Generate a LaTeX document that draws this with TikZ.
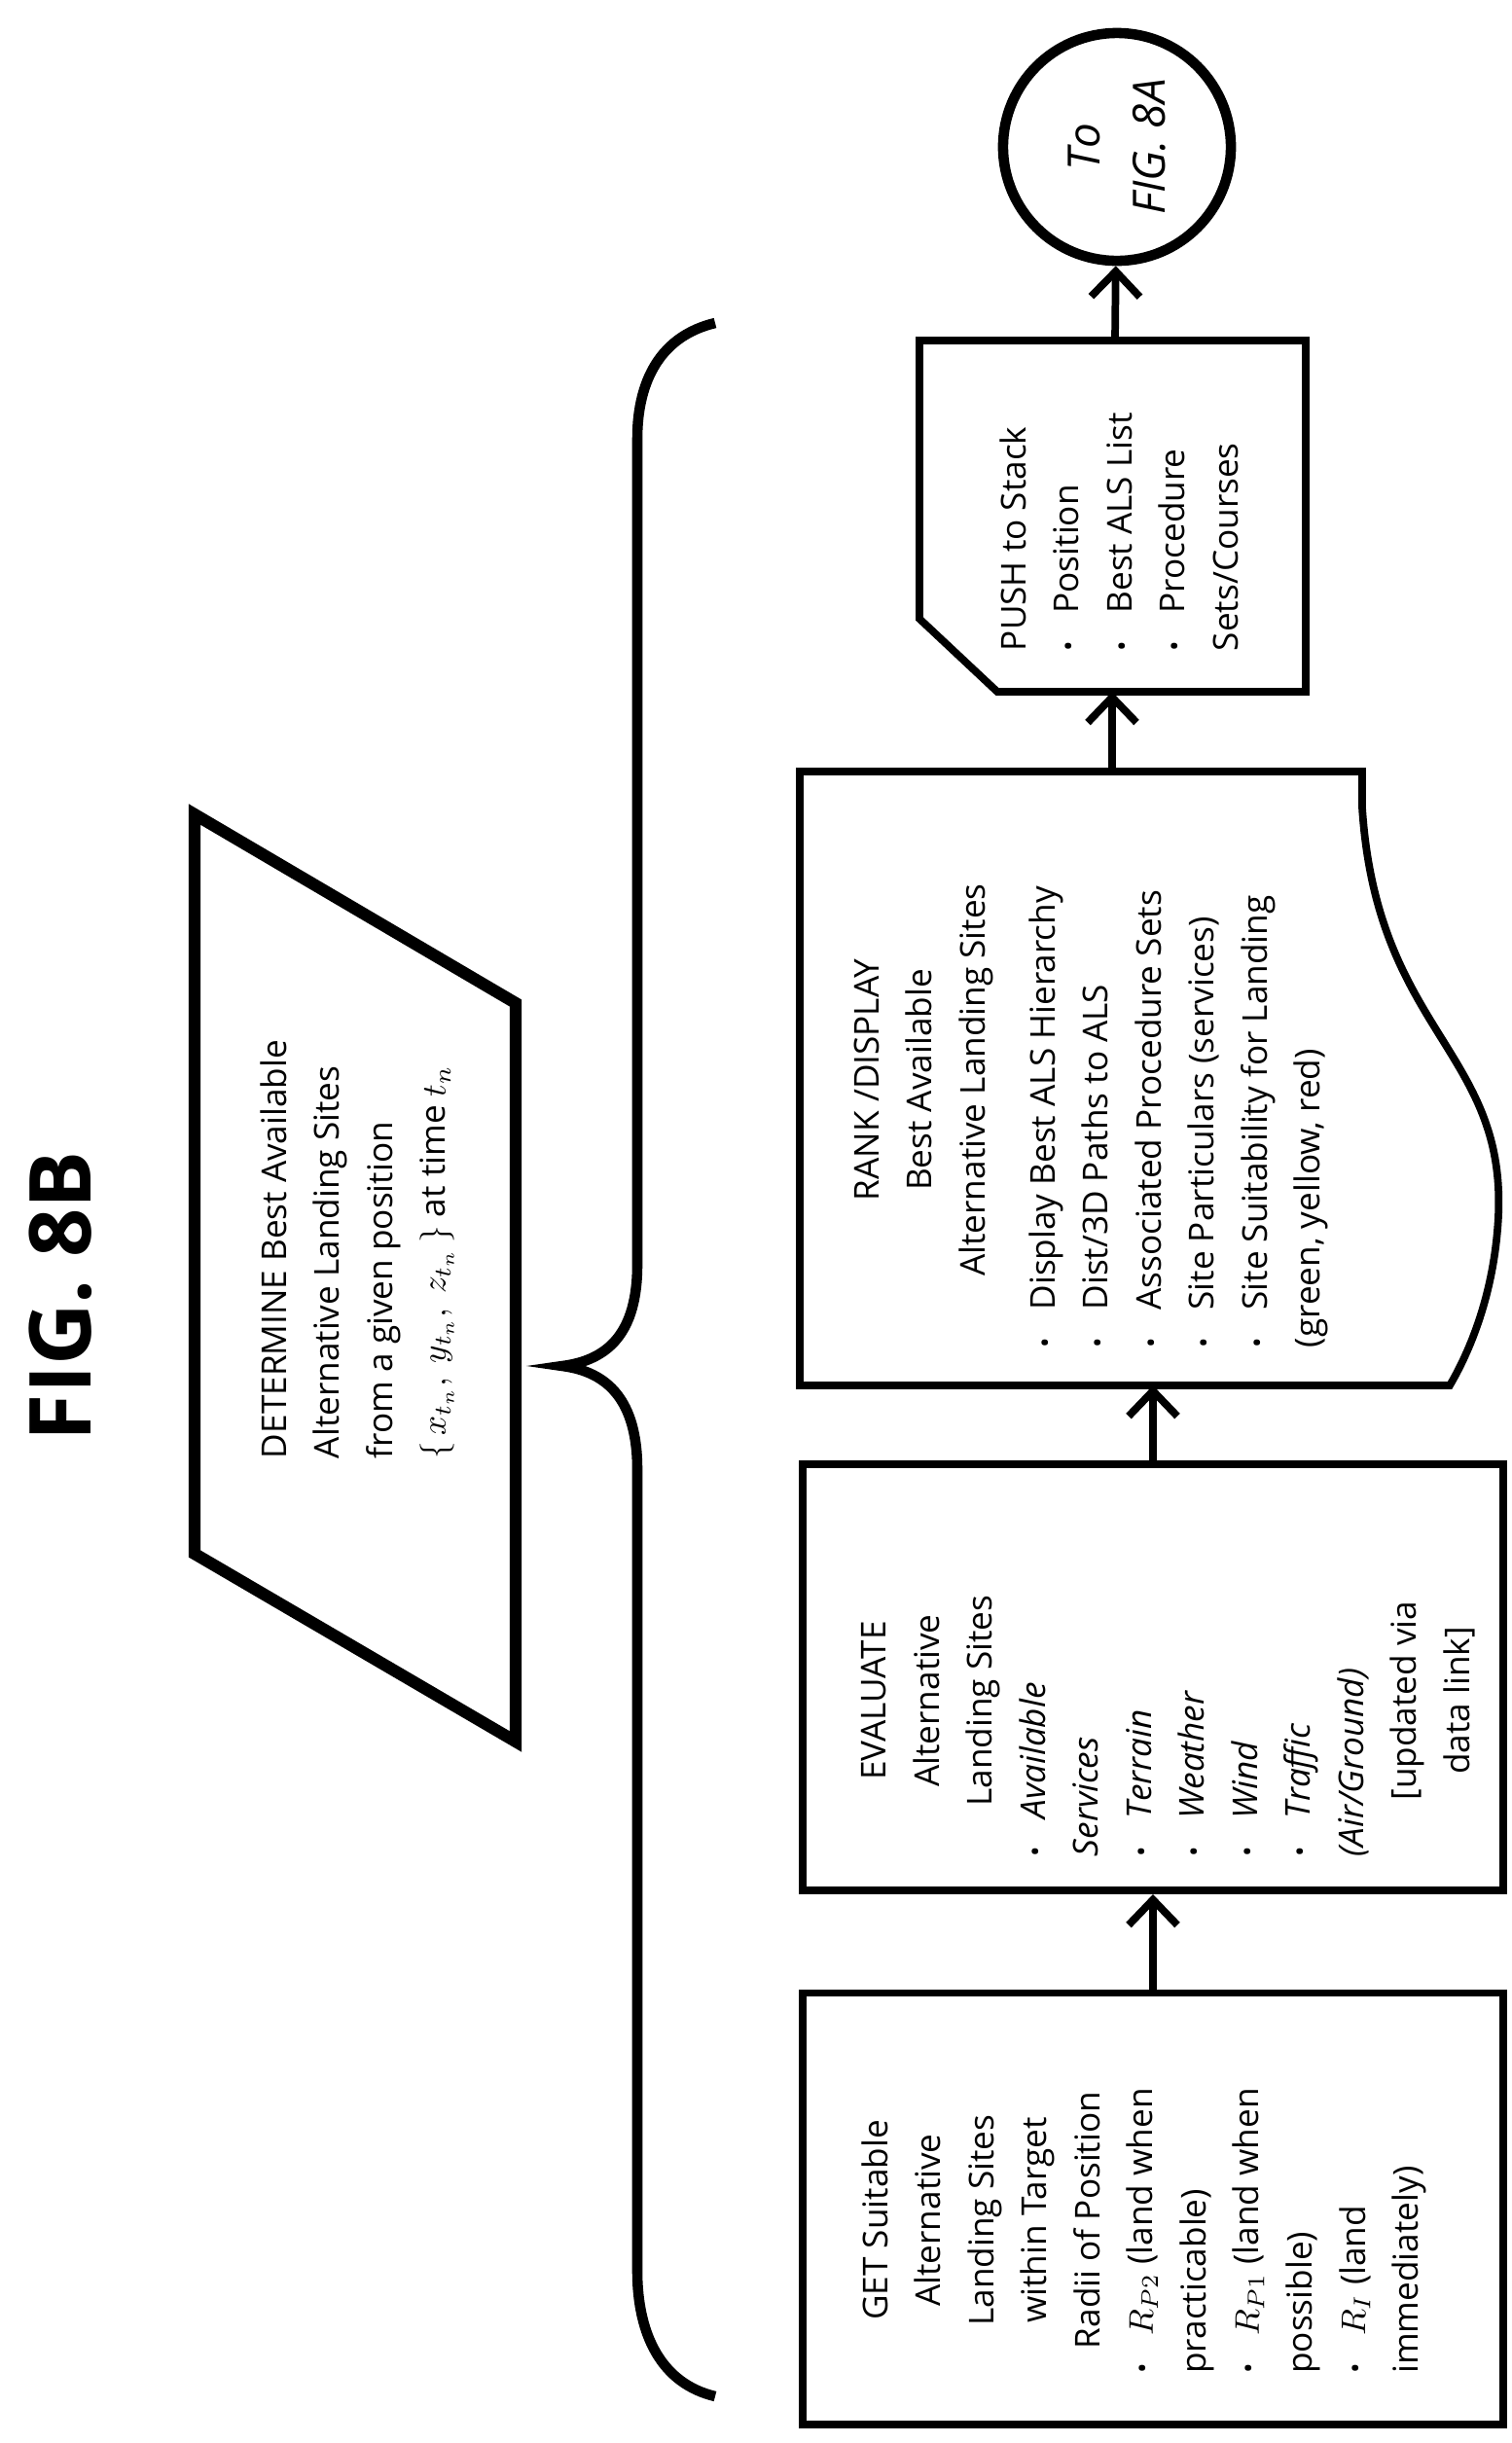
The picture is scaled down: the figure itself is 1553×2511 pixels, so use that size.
\documentclass[tikz,border=0pt]{standalone}
\usepackage{fontspec}
\setmainfont{Open Sans}
\usetikzlibrary{arrows.meta}
\newcommand\bul[1]{\par\hangindent=1.1em\hangafter=1\noindent\makebox[1.1em][l]{\footnotesize\textbullet}{#1}\par}
\newcommand\bulflat[1]{\par\noindent\makebox[1.1em][l]{\footnotesize\textbullet}{#1}\par}
\newcommand\block[2]{\parbox[t]{#1}{\raggedright\hyphenpenalty=10000 #2}}
\newcommand\ctr[1]{\par{\leftskip=0pt plus 1fil\rightskip=0pt plus 1fil\parfillskip=0pt\noindent #1\par}}
\tikzset{
  box/.style={draw, line width=2.2pt, rotate=90, inner sep=0pt},
  txt/.style={rotate=90, anchor=north, inner sep=0pt,
    font=\fontsize{10}{15.5}\selectfont},
  flow/.style={-{Straight Barb[length=2.6mm,width=5mm]}, line width=2.2pt},
}
\begin{document}
\begin{tikzpicture}[x=0.01cm, y=-0.01cm]
    \useasboundingbox (0,0) rectangle (1553,2511);
    \node[rotate=90, font=\fontsize{25}{28}\selectfont\bfseries] (figtitle) at (62,1332) {FIG. 8B};
    % determine
    \draw[line width=3.5pt, line join=miter] (200,837) -- (530,1031) -- (530,1790) -- (200,1597) -- cycle;
    \node[txt] (determine) at (267,1284)
      {\block{4.3cm}{DETERMINE Best Available\\ Alternative Landing Sites\\ from a given position\\
       $\{\,x_{t_n},\ y_{t_n},\ z_{t_n}\,\}$ at time $t_n$}};
    % brace
    \draw[line width=3pt] (735,332) .. controls (680,345) and (655,390) .. (655,451)
      -- (655,1300) .. controls (655,1370) and (625,1398) .. (578,1404)
      .. controls (625,1410) and (655,1440) .. (655,1510)
      -- (655,2334) .. controls (655,2400) and (680,2450) .. (735,2463);
    % get
    \node[box, minimum width=4.43cm, minimum height=7.2cm] (get) at (1185,2270) {};
    \node[txt] (gettxt) at (885,2282)
      {\block{3.15cm}{\ctr{GET Suitable}\ctr{Alternative}\ctr{Landing Sites}\ctr{within Target}\ctr{Radii of Position}
       \bulflat{$R_{P2}$ (land when\\ practicable)}
       \bulflat{$R_{P1}$ (land when\\ possible)}
       \bulflat{$R_{I}$ (land\\ immediately)}}};
    % evaluate
    \node[box, minimum width=4.38cm, minimum height=7.2cm] (eval) at (1185,1724) {};
    \node[txt] (evaltxt) at (885,1748)
      {\block{3.2cm}{\ctr{EVALUATE}\ctr{Alternative}\ctr{Landing Sites}
       \bul{\itshape Available\\ Services}
       \bul{\itshape Terrain}
       \bul{\itshape Weather}
       \bul{\itshape Wind}
       \bul{\itshape Traffic\\ (Air/Ground)}
       \ctr{[updated via}\ctr{data link]}}};
    % rank / display
    \draw[line width=2.2pt] (822,1424) -- (822,793) -- (1400,793) -- (1400,830)
      .. controls (1415,1060) and (1548,1080) .. (1540,1250)
      .. controls (1536,1330) and (1510,1390) .. (1490,1424) -- cycle;
    \coordinate (rank-s) at (1185,1424);
    \coordinate (rank-n) at (1143,793);
    \node[txt] (ranktxt) at (877,1110)
      {\block{5.5cm}{\ctr{RANK /DISPLAY}\ctr{Best Available}\ctr{Alternative Landing Sites}
       \vspace{5pt}
       \bul{Display Best ALS Hierarchy}
       \bul{Dist/3D Paths to ALS}
       \bul{Associated Procedure Sets}
       \bul{Site Particulars (services)}
       \bul{Site Suitability for Landing\\ (green, yellow, red)}}};
    % push
    \draw[line width=2.2pt] (945,350) -- (1342,350) -- (1342,711) -- (1025,711) -- (945,636) -- cycle;
    \coordinate (push-s) at (1143,711);
    \coordinate (push-n) at (1146,350);
    \node[txt] (pushtxt) at (1027,529)
      {\block{2.8cm}{PUSH to Stack
       \bul{Position}
       \bul{Best ALS List}
       \bul{Procedure\\ Sets/Courses}}};
    % connector
    \node[draw, circle, line width=3pt, minimum size=2.34cm, inner sep=0pt, rotate=90, align=center,
      font=\fontsize{13}{19}\selectfont\itshape] (to8a) at (1148,151) {To\\ FIG. 8A};
    \draw[flow] (get.east) -- (eval.west);
    \draw[flow] (eval.east) -- (rank-s);
    \draw[flow] (rank-n) -- (push-s);
    \draw[flow] (push-n) -- (to8a);
\end{tikzpicture}
\end{document}
